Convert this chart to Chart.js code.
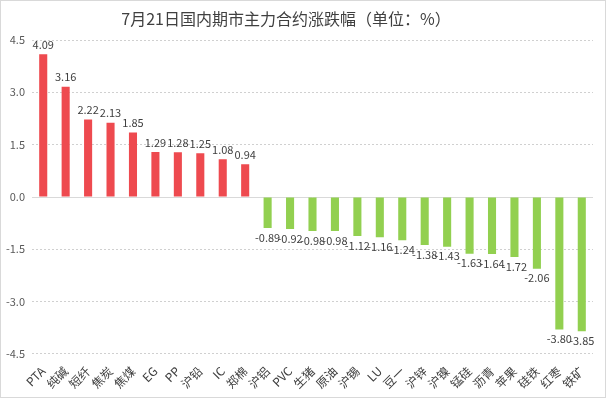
<!DOCTYPE html>
<html>
<head>
<meta charset="utf-8">
<script src="https://cdn.jsdelivr.net/npm/chart.js@4/dist/chart.umd.min.js"></script>
<style>
  body { margin: 0; background: #fff; }
  .box { width: 604px; height: 396px; border: 1px solid #d9d9d9; position: relative; }
</style>
</head>
<body>
<div class="box"><canvas id="c" width="604" height="396"></canvas></div>
<script>
  const categories = ['PTA', '纯碱', '短纤', '焦炭', '焦煤', 'EG', 'PP', '沪铅', 'IC', '郑棉', '沪铝', 'PVC', '生猪', '原油', '沪锡', 'LU', '豆一', '沪锌', '沪镍', '锰硅', '沥青', '苹果', '硅铁', '红枣', '铁矿'];
  const changes = [4.09, 3.16, 2.22, 2.13, 1.85, 1.29, 1.28, 1.25, 1.08, 0.94, -0.89, -0.92, -0.98, -0.98, -1.12, -1.16, -1.24, -1.38, -1.43, -1.63, -1.64, -1.72, -2.06, -3.80, -3.85];
  const yTicks = [4.5, 3.0, 1.5, 0.0, -1.5, -3.0, -4.5];
  const titleText = '7月21日国内期市主力合约涨跌幅（单位：%）';

  const font = '"Noto Sans CJK SC", "Noto Sans", sans-serif';

  // title, solid zero line, value labels
  const extras = {
    id: 'extras',
    beforeDatasetsDraw(chart) {
      const ctx = chart.ctx;
      const area = chart.chartArea;
      const y0 = chart.scales.y.getPixelForValue(0);
      ctx.save();
      ctx.strokeStyle = '#d9d9d9';
      ctx.lineWidth = 1;
      ctx.beginPath();
      ctx.moveTo(area.left, Math.round(y0) + 0.5);
      ctx.lineTo(area.right, Math.round(y0) + 0.5);
      ctx.stroke();
      ctx.restore();
    },
    afterDatasetsDraw(chart) {
      const ctx = chart.ctx;
      const meta = chart.getDatasetMeta(0);
      ctx.save();
      ctx.font = '16px ' + font;
      ctx.fillStyle = '#404040';
      ctx.textAlign = 'center';
      ctx.textBaseline = 'middle';
      ctx.fillText(titleText, 285, 18);

      ctx.font = '11px ' + font;
      ctx.fillStyle = '#404040';
      meta.data.forEach((bar, i) => {
        const v = changes[i];
        if (v >= 0) {
          ctx.textBaseline = 'bottom';
          ctx.fillText(v.toFixed(2), bar.x, bar.y - 4);
        } else {
          ctx.textBaseline = 'top';
          ctx.fillText(v.toFixed(2), bar.x, bar.y + 4);
        }
      });
      ctx.restore();
    }
  };

  new Chart(document.getElementById('c'), {
    type: 'bar',
    data: {
      labels: categories,
      datasets: [{
        data: changes,
        backgroundColor: changes.map(v => v >= 0 ? '#ee4a4f' : '#92d050'),
        barPercentage: 0.36,
        categoryPercentage: 1
      }]
    },
    options: {
      responsive: false,
      animation: false,
      layout: { padding: { left: 0, right: 12, top: 39, bottom: 4 } },
      plugins: {
        legend: { display: false },
        tooltip: { enabled: false },
        title: { display: false }
      },
      scales: {
        x: {
          grid: { display: false },
          border: { display: false },
          ticks: {
            autoSkip: false,
            maxRotation: 45,
            minRotation: 45,
            color: '#404040',
            font: { family: font, size: 12 },
            padding: 2
          }
        },
        y: {
          min: -4.5,
          max: 4.5,
          afterBuildTicks: axis => { axis.ticks = yTicks.map(v => ({ value: v })); },
          afterFit: axis => { axis.width = 31; },
          border: { display: false, dash: [2, 2] },
          grid: {
            color: ctx => ctx.tick && ctx.tick.value === 0 ? 'rgba(0,0,0,0)' : '#d0d0d0',
            drawTicks: false
          },
          ticks: {
            color: '#595959',
            font: { family: font, size: 11 },
            padding: 7,
            callback: v => v.toFixed(1)
          }
        }
      }
    },
    plugins: [extras]
  });
</script>
</body>
</html>
